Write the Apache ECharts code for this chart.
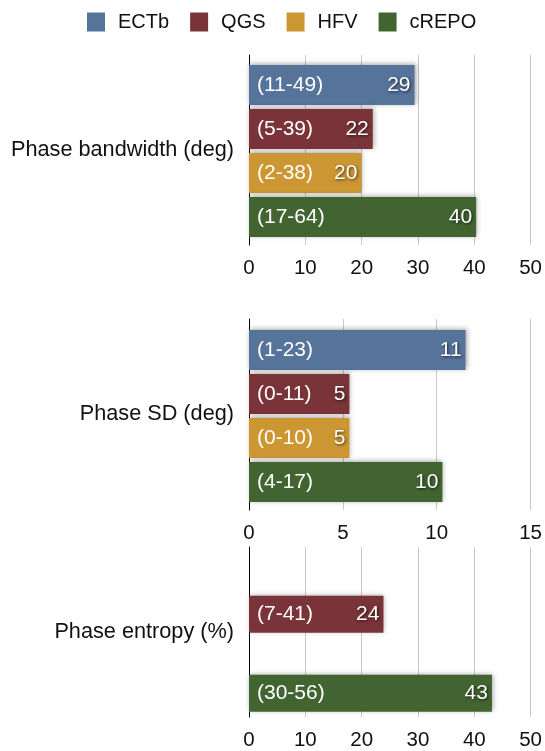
<!DOCTYPE html>
<html>
<head>
<meta charset="utf-8">
<script src="https://cdn.jsdelivr.net/npm/echarts@6/dist/echarts.min.js"></script>
<style>
html,body{margin:0;padding:0;background:#fff;}
#chart{width:545px;height:751px;}
</style>
</head>
<body>
<div id="chart"></div>
<script>
// ---- data ----
const groups = ['ECTb', 'QGS', 'HFV', 'cREPO'];
const groupColors = ['#56739a', '#7a3439', '#cc9632', '#426431'];
const metricNames = ['Phase bandwidth (deg)', 'Phase SD (deg)', 'Phase entropy (%)'];

const bandwidthValues = [29.3, 21.9, 19.9, 40.2];
const bandwidthLabels = ['29', '22', '20', '40'];
const bandwidthRanges = ['(11-49)', '(5-39)', '(2-38)', '(17-64)'];
const bandwidthTicks = [0, 10, 20, 30, 40, 50];

const sdValues = [11.5, 5.33, 5.33, 10.27];
const sdLabels = ['11', '5', '5', '10'];
const sdRanges = ['(1-23)', '(0-11)', '(0-10)', '(4-17)'];
const sdTicks = [0, 5, 10, 15];

const entropyValues = [null, 23.8, null, 43.0];
const entropyLabels = [null, '24', null, '43'];
const entropyRanges = [null, '(7-41)', null, '(30-56)'];
const entropyTicks = [0, 10, 20, 30, 40, 50];

// ---- layout ----
const FONT = '"Liberation Sans", Arial, Helvetica, sans-serif';
const panels = [
  { values: bandwidthValues, labels: bandwidthLabels, ranges: bandwidthRanges, ticks: bandwidthTicks,
    axisTop: 55, axisH: 190, barTop: 63, barH: 176, barW: 40 },
  { values: sdValues, labels: sdLabels, ranges: sdRanges, ticks: sdTicks,
    axisTop: 319, axisH: 191, barTop: 328, barH: 176, barW: 40 },
  { values: entropyValues, labels: entropyLabels, ranges: entropyRanges, ticks: entropyTicks,
    axisTop: 547, axisH: 170, barTop: 555, barH: 158, barW: 37 }
];
const LEFT = 249, WIDTH = 282.5;

const grid = [], xAxis = [], yAxis = [], series = [], overlays = [];
panels.forEach((p, pi) => {
  const tMin = p.ticks[0], tMax = p.ticks[p.ticks.length - 1];
  const interval = p.ticks[1] - p.ticks[0];
  grid.push({ left: LEFT, width: WIDTH, top: p.axisTop, height: p.axisH });
  grid.push({ left: LEFT, width: WIDTH, top: p.barTop, height: p.barH });
  const ga = pi * 2, gb = pi * 2 + 1;
  xAxis.push({
    gridIndex: ga, type: 'value', min: tMin, max: tMax, interval: interval,
    axisLine: { show: false }, axisTick: { show: false },
    axisLabel: { show: true, margin: 13, fontSize: 20.5, color: '#111', fontFamily: FONT },
    splitLine: { show: true, lineStyle: { color: '#c9c9c9', width: 1 } }
  });
  xAxis.push({
    gridIndex: gb, type: 'value', min: tMin, max: tMax, show: false,
    splitLine: { show: false }
  });
  yAxis.push({
    gridIndex: ga, type: 'value', min: 0, max: 1,
    axisLine: { show: true, lineStyle: { color: '#000', width: 1 } },
    axisTick: { show: false }, axisLabel: { show: false }, splitLine: { show: false },
    name: metricNames[pi], nameLocation: 'middle', nameRotate: 0, nameGap: 15,
    nameTextStyle: { fontSize: 21.7, color: '#111', fontFamily: FONT, align: 'right', verticalAlign: 'middle' }
  });
  yAxis.push({
    gridIndex: gb, type: 'category', data: groups, inverse: true, show: false
  });
  groups.forEach((g, gi) => {
    if (p.values[gi] == null) return;
    const data = groups.map((_, i) => (i === gi ? p.values[gi] : '-'));
    series.push({
      name: g, type: 'bar', xAxisIndex: gb, yAxisIndex: gb, data: data,
      barWidth: p.barW, barGap: '-100%',
      itemStyle: { color: groupColors[gi], shadowBlur: 5, shadowColor: 'rgba(0,0,0,0.35)', shadowOffsetX: 1, shadowOffsetY: -1 },
      label: {
        show: true, position: 'insideLeft', distance: 8,
        formatter: () => p.ranges[gi],
        color: '#fff', fontSize: 21, fontFamily: FONT
      },
      emphasis: { disabled: true },
      animation: false
    });
    overlays.push({
      name: g, type: 'bar', xAxisIndex: gb, yAxisIndex: gb, data: data,
      barWidth: p.barW, barGap: '-100%', silent: true,
      itemStyle: { color: 'rgba(0,0,0,0)' },
      label: {
        show: true, position: 'insideRight', distance: 4,
        formatter: () => p.labels[gi],
        color: '#fff', fontSize: 21, fontFamily: FONT,
        textShadowColor: 'rgba(0,0,0,0.7)', textShadowBlur: 3, textShadowOffsetX: 1, textShadowOffsetY: 1
      },
      emphasis: { disabled: true },
      animation: false
    });
  });
});

const chart = echarts.init(document.getElementById('chart'), null, { renderer: 'canvas' });
chart.setOption({
  animation: false,
  backgroundColor: '#fff',
  textStyle: { fontFamily: FONT },
  legend: {
    data: groups, left: 87, top: 12, padding: 0,
    icon: 'rect', itemWidth: 18, itemHeight: 19, itemGap: 21,
    textStyle: { fontSize: 20, color: '#111', fontFamily: FONT, padding: [0, 0, 0, 8] }
  },
  grid: grid, xAxis: xAxis, yAxis: yAxis,
  series: series.concat(overlays)
});
</script>
</body>
</html>
